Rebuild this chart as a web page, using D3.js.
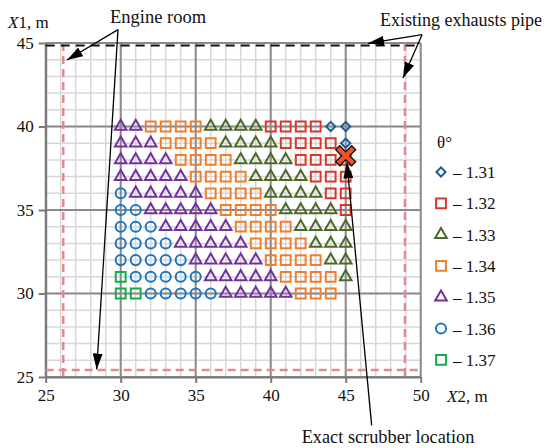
<!DOCTYPE html>
<html>
<head>
<meta charset="utf-8">
<script src="https://cdn.jsdelivr.net/npm/d3@7"></script>
<style>
  body { margin: 0; background: #fff; }
  svg { display: block; }
  svg text { font-family: 'Liberation Serif', 'Times New Roman', Times, 'DejaVu Serif', 'Noto Serif', serif; }
</style>
</head>
<body>
<svg id="chart" width="545" height="448"></svg>
<script>
// grid of candidate positions
const x2Values = [30, 31, 32, 33, 34, 35, 36, 37, 38, 39, 40, 41, 42, 43, 44, 45];
const x1Values = [40, 39, 38, 37, 36, 35, 34, 33, 32, 31, 30];

// theta value found at each (x1, x2) cell, one row per x1 value
const thetaRows = [
  [1.35, 1.35, 1.34, 1.34, 1.34, 1.34, 1.33, 1.33, 1.33, 1.33, 1.32, 1.32, 1.32, 1.32, 1.31, 1.31],
  [1.35, 1.35, 1.35, 1.34, 1.34, 1.34, 1.34, 1.33, 1.33, 1.33, 1.33, 1.32, 1.32, 1.32, 1.32, 1.31],
  [1.35, 1.35, 1.35, 1.35, 1.34, 1.34, 1.34, 1.34, 1.33, 1.33, 1.33, 1.33, 1.32, 1.32, 1.32, 1.32],
  [1.35, 1.35, 1.35, 1.35, 1.35, 1.34, 1.34, 1.34, 1.34, 1.33, 1.33, 1.33, 1.33, 1.32, 1.32, 1.32],
  [1.36, 1.35, 1.35, 1.35, 1.35, 1.35, 1.34, 1.34, 1.34, 1.34, 1.33, 1.33, 1.33, 1.33, 1.32, 1.32],
  [1.36, 1.36, 1.35, 1.35, 1.35, 1.35, 1.35, 1.34, 1.34, 1.34, 1.34, 1.33, 1.33, 1.33, 1.33, 1.32],
  [1.36, 1.36, 1.36, 1.35, 1.35, 1.35, 1.35, 1.35, 1.34, 1.34, 1.34, 1.34, 1.33, 1.33, 1.33, 1.33],
  [1.36, 1.36, 1.36, 1.36, 1.35, 1.35, 1.35, 1.35, 1.35, 1.34, 1.34, 1.34, 1.34, 1.33, 1.33, 1.33],
  [1.36, 1.36, 1.36, 1.36, 1.36, 1.35, 1.35, 1.35, 1.35, 1.35, 1.34, 1.34, 1.34, 1.34, 1.33, 1.33],
  [1.37, 1.36, 1.36, 1.36, 1.36, 1.36, 1.35, 1.35, 1.35, 1.35, 1.35, 1.34, 1.34, 1.34, 1.34, 1.33],
  [1.37, 1.37, 1.36, 1.36, 1.36, 1.36, 1.36, 1.35, 1.35, 1.35, 1.35, 1.35, 1.34, 1.34, 1.34, null]
];

const thetaLevels = [1.31, 1.32, 1.33, 1.34, 1.35, 1.36, 1.37];
const xTicks = [25, 30, 35, 40, 45, 50];
const yTicks = [25, 30, 35, 40, 45];

// boundaries drawn as dashed lines (in metres)
const engineRoomLeft = 26.17;
const engineRoomBottom = 25.42;
const exhaustPipeRight = 48.95;
const exhaustPipeTop = 44.85;
const scrubber = { x2: 45, x1: 38.25 };

const markerStyle = {
  1.31: { type: 'diamond', color: '#1f5b97' },
  1.32: { type: 'square', color: '#d8382c' },
  1.33: { type: 'triangle', color: '#4b6a27' },
  1.34: { type: 'square', color: '#f07e2e' },
  1.35: { type: 'triangle', color: '#7131a0' },
  1.36: { type: 'circle', color: '#1d76c0' },
  1.37: { type: 'square', color: '#12ad4f' }
};

const FONT = "'Liberation Serif', 'Times New Roman', Times, 'DejaVu Serif', 'Noto Serif', serif";

const svg = d3.select('#chart');

const x = d3.scaleLinear().domain([25, 50]).range([45.7, 420.7]);
const y = d3.scaleLinear().domain([25, 45]).range([377, 43]);

// Minor grid
const minorX = d3.range(25, 51);
const minorY = d3.range(25, 46);
svg.append('g').selectAll('line').data(minorX).enter().append('line')
  .attr('x1', d => x(d)).attr('x2', d => x(d))
  .attr('y1', y(25)).attr('y2', y(45))
  .attr('stroke', '#d8d8d8').attr('stroke-width', 1.5);
svg.append('g').selectAll('line').data(minorY).enter().append('line')
  .attr('y1', d => y(d)).attr('y2', d => y(d))
  .attr('x1', x(25)).attr('x2', x(50))
  .attr('stroke', '#d8d8d8').attr('stroke-width', 1.5);

// Major grid
svg.append('g').selectAll('line').data(xTicks).enter().append('line')
  .attr('x1', d => x(d)).attr('x2', d => x(d))
  .attr('y1', y(25)).attr('y2', y(45))
  .attr('stroke', '#8a8a8a').attr('stroke-width', 2);
svg.append('g').selectAll('line').data(yTicks).enter().append('line')
  .attr('y1', d => y(d)).attr('y2', d => y(d))
  .attr('x1', x(25)).attr('x2', x(50))
  .attr('stroke', '#8a8a8a').attr('stroke-width', 2);

// Axes
const xAxis = svg.append('g')
  .attr('transform', 'translate(0,' + y(25) + ')')
  .call(d3.axisBottom(x).tickValues(xTicks).tickSize(6).tickSizeOuter(0).tickPadding(6));
const yAxis = svg.append('g')
  .attr('transform', 'translate(' + x(25) + ',0)')
  .call(d3.axisLeft(y).tickValues(yTicks).tickSize(7).tickSizeOuter(0).tickPadding(5));
[xAxis, yAxis].forEach(a => {
  a.attr('font-family', FONT).attr('font-size', 17);
  a.select('.domain').attr('stroke', '#7a7a7a').attr('stroke-width', 2);
  a.selectAll('.tick line').attr('stroke', '#7a7a7a').attr('stroke-width', 2);
  a.selectAll('text').attr('fill', '#111');
});

// Boundary lines
const bounds = svg.append('g').attr('fill', 'none');
bounds.append('line')
  .attr('x1', x(engineRoomLeft)).attr('x2', x(engineRoomLeft))
  .attr('y1', y(45)).attr('y2', y(25))
  .attr('stroke', '#e08c8c').attr('stroke-width', 2.5).attr('stroke-dasharray', '8,5');
bounds.append('line')
  .attr('x1', x(exhaustPipeRight)).attr('x2', x(exhaustPipeRight))
  .attr('y1', y(45)).attr('y2', y(25))
  .attr('stroke', '#e08c8c').attr('stroke-width', 2.5).attr('stroke-dasharray', '8,5');
bounds.append('line')
  .attr('x1', x(25)).attr('x2', x(50))
  .attr('y1', y(engineRoomBottom)).attr('y2', y(engineRoomBottom))
  .attr('stroke', '#e08c8c').attr('stroke-width', 2.5).attr('stroke-dasharray', '8,5');
bounds.append('line')
  .attr('x1', x(25)).attr('x2', x(50))
  .attr('y1', y(exhaustPipeTop)).attr('y2', y(exhaustPipeTop))
  .attr('stroke', '#111').attr('stroke-width', 1.8).attr('stroke-dasharray', '9,6');

// Markers
function symbolPath(type) {
  if (type === 'square') return d3.symbol(d3.symbolSquare, 96)();
  if (type === 'circle') return d3.symbol(d3.symbolCircle, 80)();
  if (type === 'triangle') return d3.symbol(d3.symbolTriangle, 58)();
  return d3.symbol(d3.symbolSquare, 42)();
}

const cells = [];
thetaRows.forEach((row, i) => {
  row.forEach((theta, j) => {
    if (theta !== null) cells.push({ x1: x1Values[i], x2: x2Values[j], theta });
  });
});

svg.append('g').selectAll('path').data(cells).enter().append('path')
  .attr('d', d => symbolPath(markerStyle[d.theta].type))
  .attr('transform', d => 'translate(' + x(d.x2) + ',' + y(d.x1) + ')' +
    (markerStyle[d.theta].type === 'diamond' ? ' rotate(45)' : ''))
  .attr('fill', 'none')
  .attr('stroke', d => markerStyle[d.theta].color)
  .attr('stroke-width', 2);

// Scrubber cross
const cross = 'M-10,-6 L-6,-10 L0,-4 L6,-10 L10,-6 L4,0 L10,6 L6,10 L0,4 L-6,10 L-10,6 L-4,0 Z';
svg.append('path')
  .attr('d', cross)
  .attr('transform', 'translate(' + x(scrubber.x2) + ',' + y(scrubber.x1) + ')')
  .attr('fill', '#f2522a').attr('stroke', '#111').attr('stroke-width', 1.3);

// Arrowheads
svg.append('defs').append('marker')
  .attr('id', 'arrow')
  .attr('viewBox', '0 0 16 10')
  .attr('refX', 16).attr('refY', 5)
  .attr('markerWidth', 16).attr('markerHeight', 10)
  .attr('markerUnits', 'userSpaceOnUse')
  .attr('orient', 'auto')
  .append('path').attr('d', 'M0,0 L16,5 L0,10 Z').attr('fill', '#000');

const arrows = [
  [[29.82, 45.8], [26.42, 43.98]],
  [[29.82, 45.8], [28.4, 25.45]],
  [[50.09, 45.5], [46.49, 44.98]],
  [[50.09, 45.5], [48.82, 42.9]],
  [[46.73, 22.1], [45.08, 37.85]]
];
svg.append('g').selectAll('line').data(arrows).enter().append('line')
  .attr('x1', d => x(d[0][0])).attr('y1', d => y(d[0][1]))
  .attr('x2', d => x(d[1][0])).attr('y2', d => y(d[1][1]))
  .attr('stroke', '#000').attr('stroke-width', 1.3)
  .attr('marker-end', 'url(#arrow)');

// Labels
const label = (tx, ty, text, anchor, size) => svg.append('text')
  .attr('x', tx).attr('y', ty)
  .attr('text-anchor', anchor || 'start')
  .attr('font-family', FONT).attr('font-size', size || 17).attr('fill', '#111')
  .text(text);

label(110, 23, 'Engine room', 'start', 18.5);
label(380, 26, 'Existing exhausts pipe', 'start', 18);
label(388, 443, 'Exact scrubber location', 'middle', 18.3);

const yTitle = svg.append('text').attr('x', 8).attr('y', 28)
  .attr('font-family', FONT).attr('font-size', 17).attr('fill', '#111');
yTitle.append('tspan').attr('font-style', 'italic').text('X');
yTitle.append('tspan').text('1, m');
const xTitle = svg.append('text').attr('x', 447).attr('y', 402)
  .attr('font-family', FONT).attr('font-size', 17).attr('fill', '#111');
xTitle.append('tspan').attr('font-style', 'italic').text('X');
xTitle.append('tspan').text('2, m');

// Legend
label(437, 148, 'θ°');
const legend = svg.append('g').selectAll('g').data(thetaLevels).enter().append('g')
  .attr('transform', (d, i) => 'translate(441,' + (172 + i * 31.3) + ')');
legend.append('path')
  .attr('d', d => symbolPath(markerStyle[d].type))
  .attr('transform', d => markerStyle[d].type === 'diamond' ? 'rotate(45)' : null)
  .attr('fill', 'none')
  .attr('stroke', d => markerStyle[d].color)
  .attr('stroke-width', 2);
legend.append('text')
  .attr('x', 12).attr('y', 6)
  .attr('font-family', FONT).attr('font-size', 17).attr('fill', '#111')
  .text(d => '– ' + d.toFixed(2));
</script>
</body>
</html>
